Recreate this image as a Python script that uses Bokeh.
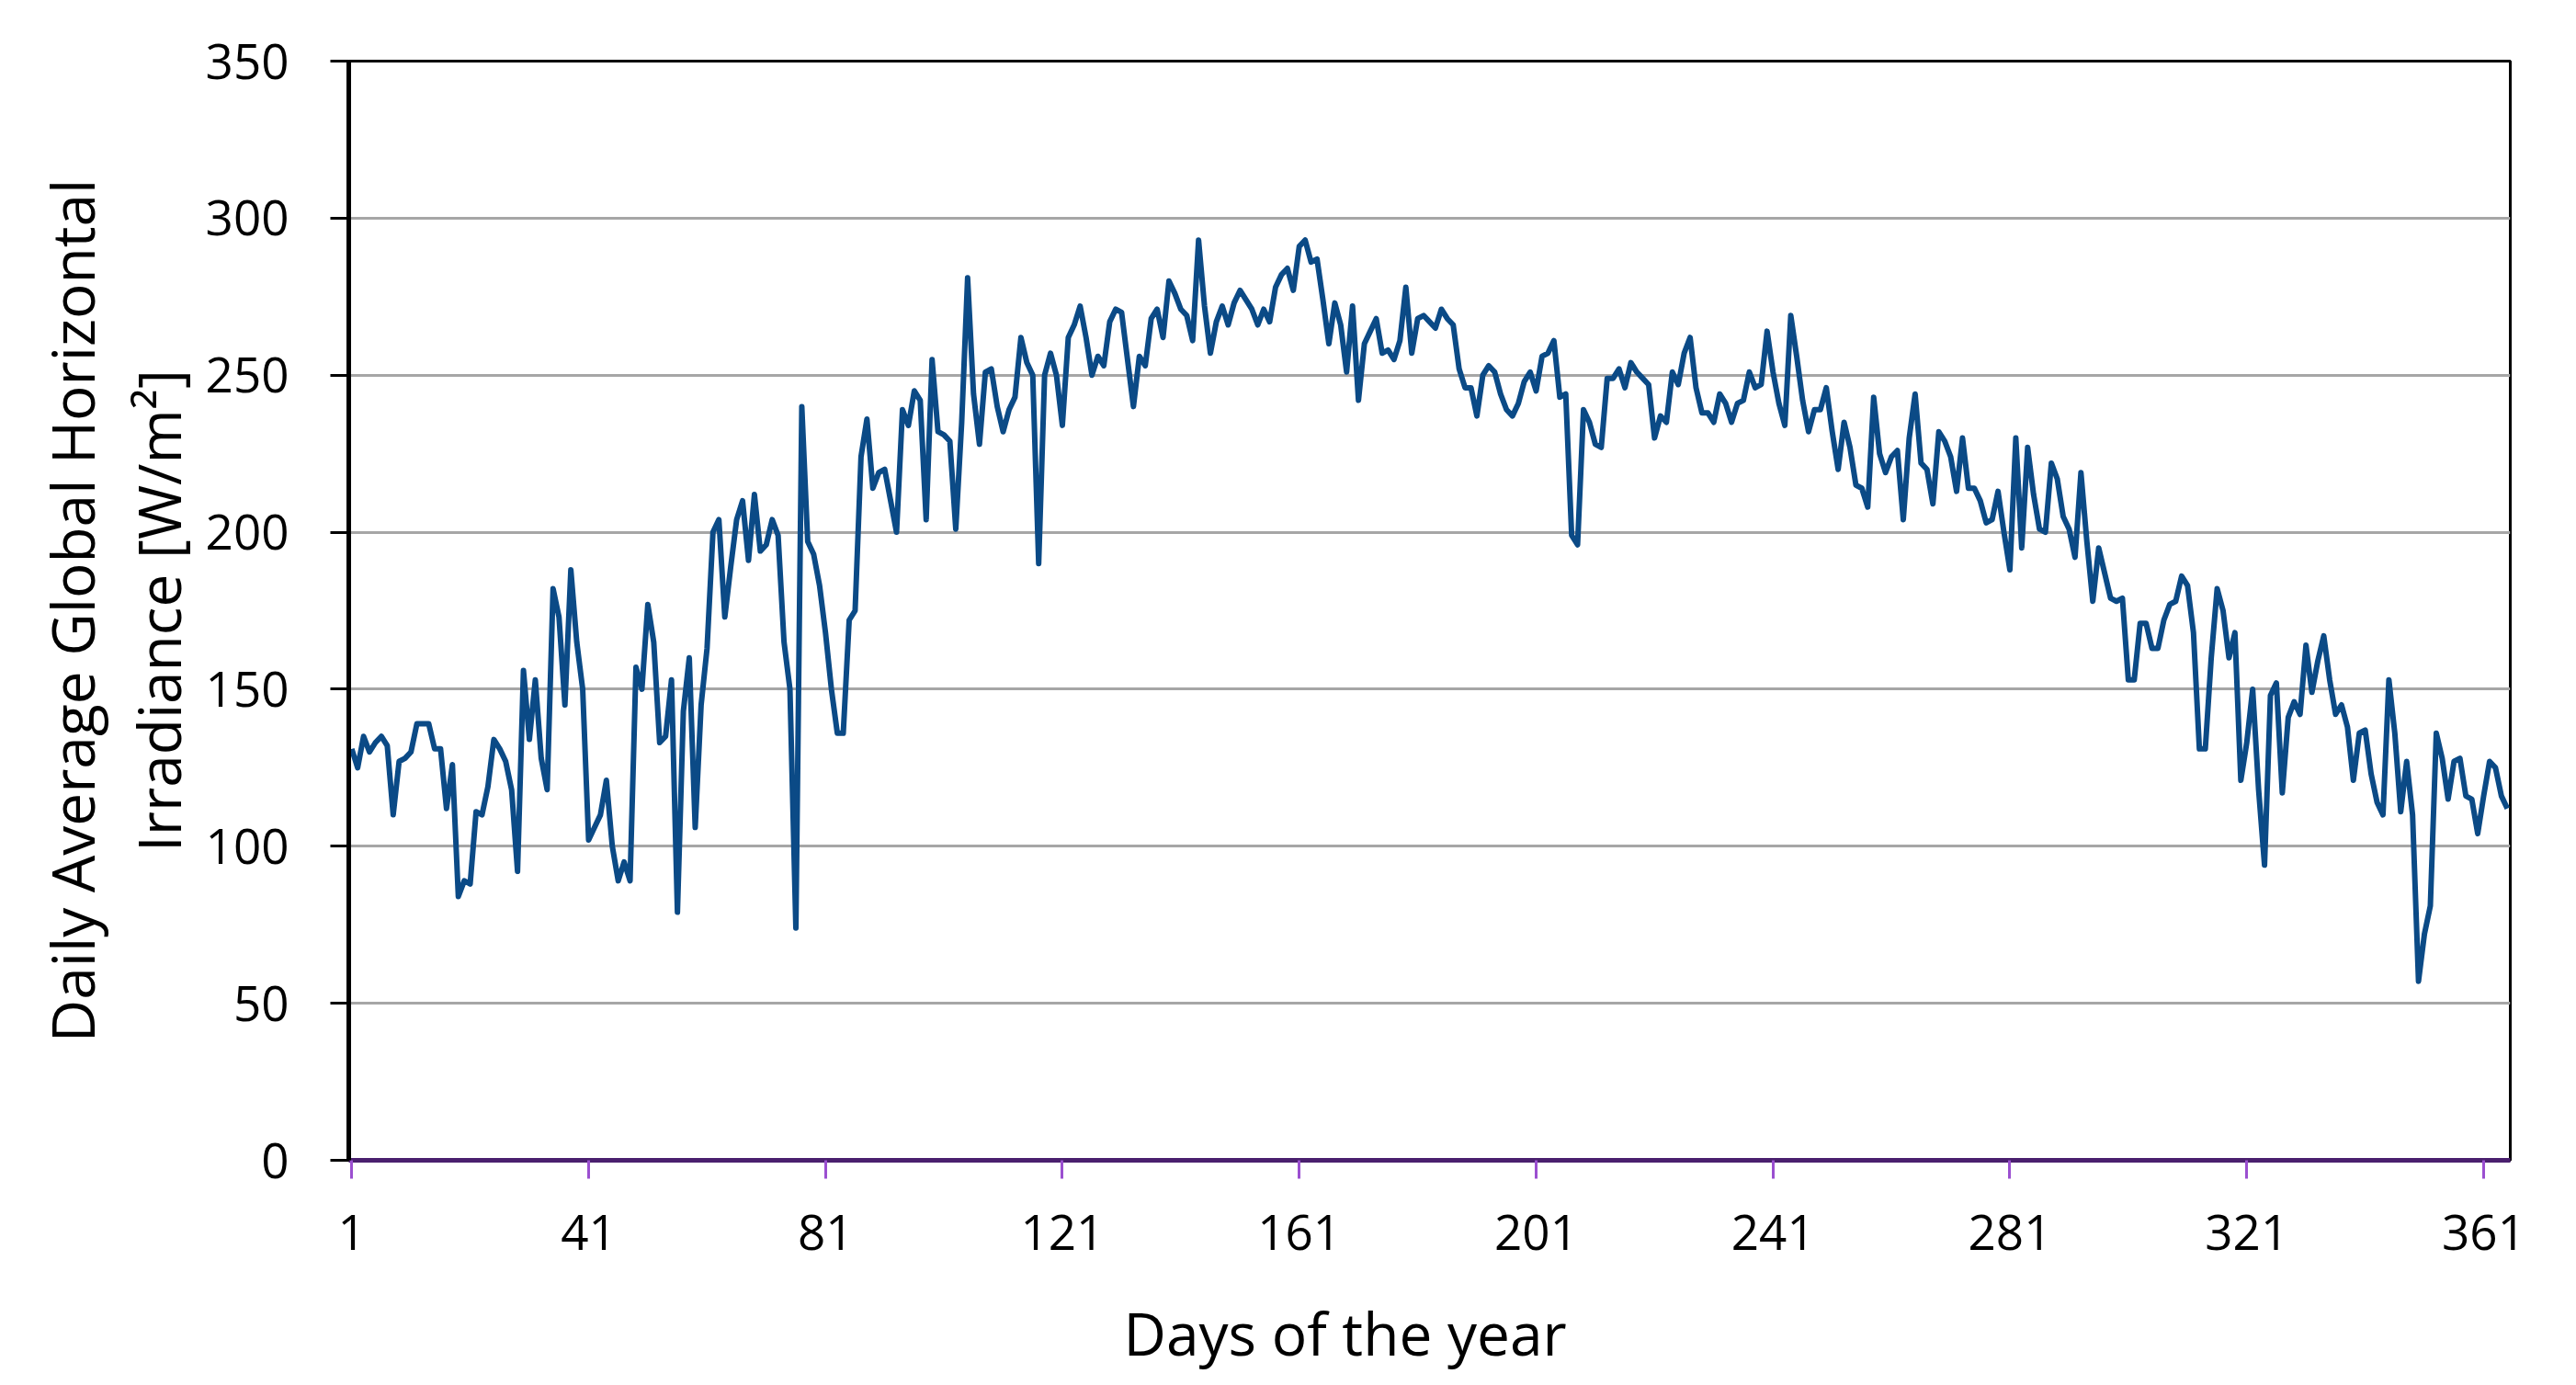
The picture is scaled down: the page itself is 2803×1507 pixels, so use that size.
from bokeh.plotting import figure
from bokeh.models import Range1d, FixedTicker, Title
from bokeh.embed import file_html
from bokeh.resources import INLINE

# Daily average global horizontal irradiance [W/m2]
irr_d001_045 = [131,125,135,130,133,135,132,110,127,128,130,139,139,139,131,131,112,126,84,89,
                88,111,110,119,134,131,127,118,92,156,134,153,128,118,182,173,145,188,165,150,
                102,106,110,121,100]
irr_d046_090 = [89,95,89,157,150,177,165,133,135,153,79,143,160,106,145,163,200,204,173,189,
                204,210,191,212,194,196,204,199,165,150,74,240,197,193,183,168,150,136,136,172,
                175,224,236,214,219]
irr_d091_135 = [220,210,200,239,234,245,242,204,255,232,231,229,201,235,281,244,228,251,252,240,
                232,239,243,262,254,250,190,250,257,250,234,262,266,272,262,250,256,253,267,271,
                270,255,240,256,253]
irr_d136_180 = [268,271,262,280,276,271,269,261,293,272,257,267,272,266,273,277,274,271,266,271,
                267,278,282,284,277,291,293,286,287,274,260,273,266,251,272,242,260,264,268,257,
                258,255,261,278,257]
irr_d181_225 = [268,269,267,265,271,268,266,252,246,246,237,250,253,251,244,239,237,241,248,251,
                245,256,257,261,243,244,199,196,239,235,228,227,249,249,252,246,254,251,249,247,
                230,237,235,251,247]
irr_d226_270 = [257,262,246,238,238,235,244,241,235,241,242,251,246,247,264,251,241,234,269,256,
                242,232,239,239,246,232,220,235,227,215,214,208,243,225,219,224,226,204,230,244,
                222,220,209,232,229]
irr_d271_315 = [224,213,230,214,214,210,203,204,213,200,188,230,195,227,212,201,200,222,217,205,
                201,192,219,197,178,195,187,179,178,179,153,153,171,171,163,163,172,177,178,186,
                183,168,131,131,160]
irr_d316_365 = [182,175,160,168,121,133,150,118,94,148,152,117,141,146,142,164,149,159,167,153,
                142,145,138,121,136,137,123,114,110,153,136,111,127,110,57,72,81,136,128,115,
                127,128,116,115,104,116,127,125,116,112]

x_tick_days = [1, 41, 81, 121, 161, 201, 241, 281, 321, 361]
y_tick_vals = [0, 50, 100, 150, 200, 250, 300, 350]

irradiance = (irr_d001_045 + irr_d046_090 + irr_d091_135 + irr_d136_180 +
              irr_d181_225 + irr_d226_270 + irr_d271_315 + irr_d316_365)
days = list(range(1, len(irradiance) + 1))

FONT = "Open Sans"

p = figure(frame_width=2352, frame_height=1196,
           x_range=Range1d(0.5, 365.5), y_range=Range1d(0, 350),
           output_backend="svg", toolbar_location=None,
           min_border_left=379, min_border_right=57,
           min_border_top=66, min_border_bottom=244,
           background_fill_color="white", border_fill_color="white")

p.line(days, irradiance, line_color="#0b4a86", line_width=6, line_join="round")

# grid
p.xgrid.grid_line_color = None
p.ygrid.grid_line_color = "#a6a6a6"
p.ygrid.grid_line_width = 3
p.ygrid.ticker = FixedTicker(ticks=y_tick_vals)

# outline (top/right black)
p.outline_line_color = "black"
p.outline_line_width = 3

# y axis
ya = p.yaxis[0]
ya.ticker = FixedTicker(ticks=y_tick_vals)
ya.axis_line_color = "black"
ya.axis_line_width = 5
ya.major_tick_line_color = "black"
ya.major_tick_line_width = 3
ya.major_tick_out = 20
ya.major_tick_in = 0
ya.minor_tick_line_color = None
ya.major_label_standoff = 45
ya.major_label_text_font = FONT
ya.major_label_text_font_size = "53px"
ya.major_label_text_color = "black"
ya.axis_label = "Daily Average Global Horizontal\nIrradiance [W/m\u00b2]"
ya.axis_label_text_font = FONT
ya.axis_label_text_font_size = "64px"
ya.axis_label_text_font_style = "normal"
ya.axis_label_text_color = "black"
ya.axis_label_text_line_height = 1.08
ya.axis_label_standoff = 5

# x axis
xa = p.xaxis[0]
xa.ticker = FixedTicker(ticks=x_tick_days)
xa.axis_line_color = "#4a1f6e"
xa.axis_line_width = 5
xa.major_tick_line_color = "#9b4fd0"
xa.major_tick_line_width = 3
xa.major_tick_out = 20
xa.major_tick_in = 0
xa.minor_tick_line_color = None
xa.major_label_standoff = 39
xa.major_label_text_font = FONT
xa.major_label_text_font_size = "53px"
xa.major_label_text_color = "black"

# x axis title (slightly left of the frame centre, as in the reference)
xtitle = Title(text="Days of the year", align="left", offset=843, standoff=85,
               text_font=FONT, text_font_size="64px", text_font_style="normal",
               text_color="black")
p.add_layout(xtitle, "below")

open("out.html", "w").write(file_html(p, INLINE))
